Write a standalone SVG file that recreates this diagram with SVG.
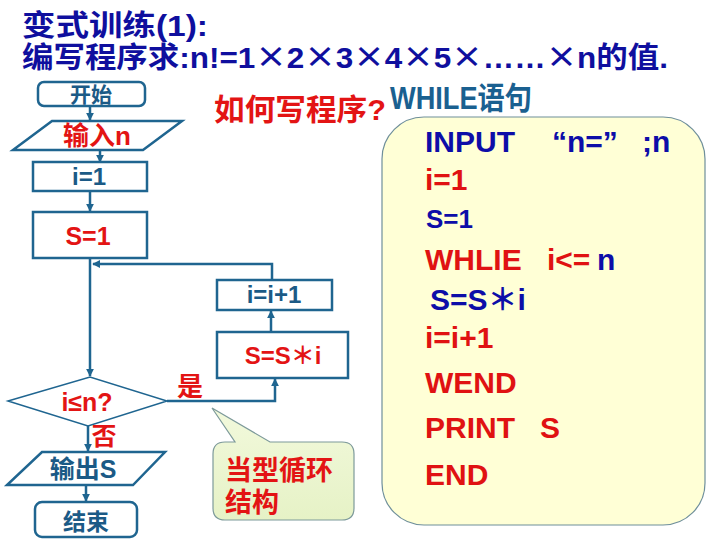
<svg xmlns="http://www.w3.org/2000/svg" width="720" height="540" viewBox="0 0 720 540">
<defs>
<style>
.t{font-family:"Liberation Sans","Noto Sans CJK SC",sans-serif;font-weight:bold}
.title{fill:#0f0f9e;font-size:29px}
.cjk{font-family:"Noto Sans CJK SC",sans-serif}
.fb{fill:#1b5a86}
.fr{fill:#e31414}
.cb{fill:#0d0da8}
.cr{fill:#e01212}
.code{font-size:30px}
.box{fill:#ffffff;stroke:#1f6590;stroke-width:2.5}
.thin{fill:#ffffff;stroke:#1f6590;stroke-width:1.5}
.conn{fill:none;stroke:#1f6590;stroke-width:2.5}
.mid{text-anchor:middle}
</style>
<marker id="ah" viewBox="0 0 10 10" refX="9" refY="5" markerWidth="3.2" markerHeight="3.2" orient="auto" markerUnits="strokeWidth">
<path d="M0,0 L10,5 L0,10 Z" fill="#1f6590"/>
</marker>
<linearGradient id="cg" x1="0" y1="0" x2="0" y2="1">
<stop offset="0" stop-color="#f2f9dc"/>
<stop offset="1" stop-color="#e6f2c6"/>
</linearGradient>
</defs>
<rect width="720" height="540" fill="#ffffff"/>

<g id="title">
<text class="t title" x="22" y="36" textLength="186" lengthAdjust="spacingAndGlyphs">变式训练(1):</text>
<text class="t title" x="22" y="68" textLength="646" lengthAdjust="spacingAndGlyphs">编写程序求:n!=1<tspan class="cjk">×</tspan>2<tspan class="cjk">×</tspan>3<tspan class="cjk">×</tspan>4<tspan class="cjk">×</tspan>5<tspan class="cjk">×</tspan>……<tspan class="cjk">×</tspan>n的值.</text>
</g>

<g id="question">
<text class="t fr" x="214" y="120" font-size="30" textLength="172" lengthAdjust="spacingAndGlyphs">如何写程序?</text>
<text class="t" x="390" y="109" font-size="31" fill="#1a6090" textLength="142" lengthAdjust="spacingAndGlyphs">WHILE语句</text>
</g>

<g id="connectors">
<line class="conn" x1="90" y1="106" x2="90" y2="120" marker-end="url(#ah)"/>
<line class="conn" x1="100" y1="150" x2="100" y2="162" marker-end="url(#ah)"/>
<line class="conn" x1="90" y1="191" x2="90" y2="211" marker-end="url(#ah)"/>
<line class="conn" x1="90" y1="258" x2="90" y2="376" marker-end="url(#ah)"/>
<polyline class="conn" points="272,280 272,264 93,264" marker-end="url(#ah)"/>
<line class="conn" x1="271" y1="332" x2="271" y2="311" marker-end="url(#ah)"/>
<polyline class="conn" points="167,401 275,401 275,379" marker-end="url(#ah)"/>
<line class="conn" x1="88" y1="426" x2="88" y2="451" marker-end="url(#ah)"/>
<line class="conn" x1="86" y1="485" x2="86" y2="501" marker-end="url(#ah)"/>
</g>

<g id="start">
<rect class="box" x="38" y="82" width="107" height="24" rx="6"/>
<text class="t fb mid" x="91" y="102" font-size="21">开始</text>
</g>
<g id="input">
<polygon class="box" points="52,121 182,121 143,150 13,150"/>
<text class="t fr mid" x="97" y="145" font-size="26">输入n</text>
</g>
<g id="i1">
<rect class="box" x="33" y="162" width="114" height="29"/>
<text class="t fb mid" x="89" y="185" font-size="24">i=1</text>
</g>
<g id="s1">
<rect class="box" x="33" y="212" width="114" height="46"/>
<text class="t fr mid" x="88" y="245" font-size="25">S=1</text>
</g>
<g id="inc">
<rect class="box" x="217" y="280" width="115" height="30"/>
<text class="t fb mid" x="274" y="303" font-size="24">i=i+1</text>
</g>
<g id="mul">
<rect class="box" x="217" y="332" width="131" height="46"/>
<text class="t fr mid" x="283" y="364" font-size="24">S=S＊i</text>
</g>
<g id="cond">
<polygon class="thin" points="8,401 90,377 167,401 88,426"/>
<text class="t fr mid" x="87" y="411" font-size="25">i≤n?</text>
</g>
<g id="labels">
<text class="t fr mid" x="190" y="396" font-size="26">是</text>
<text class="t fr mid" x="104" y="445" font-size="25">否</text>
</g>
<g id="output">
<polygon class="box" points="42,452 165,452 133,485 7,485"/>
<text class="t fb mid" x="83" y="478" font-size="25">输出S</text>
</g>
<g id="end">
<rect class="box" x="35" y="502" width="102" height="35" rx="7"/>
<text class="t fb mid" x="86" y="530" font-size="23">结束</text>
</g>

<g id="callout">
<path d="M225,442 L235,442 L212,408 L270,442 L342,442 Q354,442 354,454 L354,508 Q354,520 342,520 L225,520 Q213,520 213,508 L213,454 Q213,442 225,442 Z" fill="url(#cg)" stroke="#7d9a9a" stroke-width="1.2"/>
<text class="t fr" x="225" y="480" font-size="27">当型循环</text>
<text class="t fr" x="225" y="512" font-size="27">结构</text>
</g>

<g id="code">
<rect x="382" y="117" width="323" height="408" rx="42" fill="#ffffd6" stroke="#6f8f9a" stroke-width="1.2"/>
<text class="t code cb" x="425" y="152">INPUT</text>
<text class="t code cb" x="552" y="152">“n=”</text>
<text class="t code cb" x="642" y="152">;n</text>
<text class="t code cr" x="425" y="190">i=1</text>
<text class="t cb" x="426" y="228" font-size="26">S=1</text>
<text class="t code cr" x="425" y="270">WHLIE</text>
<text class="t code cr" x="547" y="270">i&lt;=</text>
<text class="t code cb" x="597" y="270">n</text>
<text class="t code cb" x="430" y="310">S=S＊i</text>
<text class="t code cr" x="425" y="348">i=i+1</text>
<text class="t code cr" x="425" y="393">WEND</text>
<text class="t code cr" x="425" y="438">PRINT</text>
<text class="t code cr" x="540" y="438">S</text>
<text class="t code cr" x="425" y="485">END</text>
</g>
</svg>
